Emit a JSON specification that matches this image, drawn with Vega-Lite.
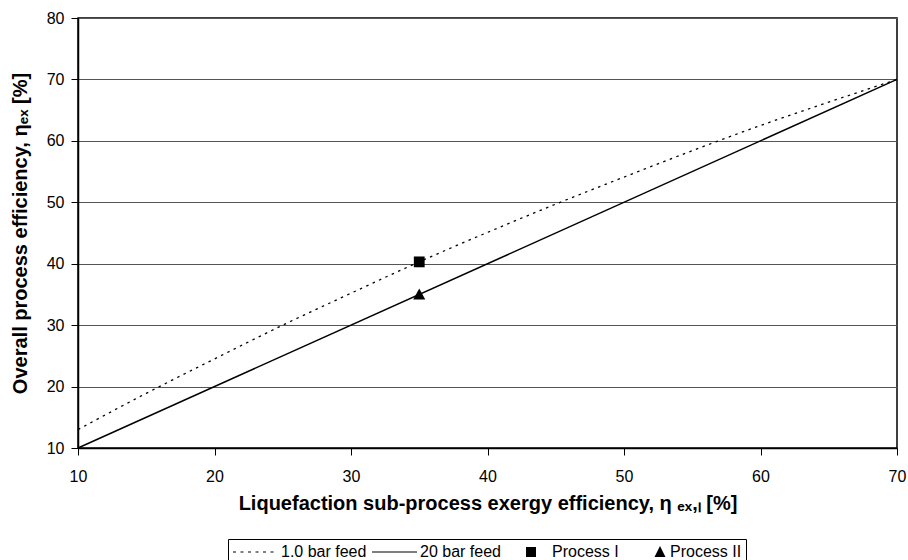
{
  "$schema": "https://vega.github.io/schema/vega-lite/v6.json",
  "width": 819,
  "height": 430,
  "autosize": "none",
  "padding": {"left": 78, "top": 18, "right": 11, "bottom": 112},
  "background": "white",
  "config": {
    "font": "Liberation Sans",
    "view": {"stroke": "black", "strokeWidth": 1.5},
    "axis": {
      "domainColor": "black",
      "domainWidth": 1.5,
      "tickColor": "black",
      "tickSize": 7,
      "tickWidth": 1,
      "labelFontSize": 16,
      "labelColor": "black",
      "labelFlush": false,
      "titleFontSize": 20,
      "titleFontWeight": "bold",
      "titleColor": "black"
    }
  },
  "data": {
    "values": [
      {"series": "1.0 bar feed", "x": 10, "y": 13},
      {"series": "1.0 bar feed", "x": 15, "y": 18.9},
      {"series": "1.0 bar feed", "x": 20, "y": 24.5},
      {"series": "1.0 bar feed", "x": 25, "y": 30},
      {"series": "1.0 bar feed", "x": 30, "y": 35.2},
      {"series": "1.0 bar feed", "x": 35, "y": 40.3},
      {"series": "1.0 bar feed", "x": 40, "y": 45.1},
      {"series": "1.0 bar feed", "x": 45, "y": 49.7},
      {"series": "1.0 bar feed", "x": 50, "y": 54.1},
      {"series": "1.0 bar feed", "x": 55, "y": 58.4},
      {"series": "1.0 bar feed", "x": 60, "y": 62.5},
      {"series": "1.0 bar feed", "x": 65, "y": 66.3},
      {"series": "1.0 bar feed", "x": 70, "y": 70},
      {"series": "20 bar feed", "x": 10, "y": 10},
      {"series": "20 bar feed", "x": 70, "y": 70},
      {"series": "Process I", "x": 35, "y": 40.3},
      {"series": "Process II", "x": 35, "y": 35}
    ]
  },
  "encoding": {
    "x": {
      "field": "x", "type": "quantitative",
      "scale": {"domain": [10, 70], "nice": false, "zero": false},
      "axis": {
        "values": [10, 20, 30, 40, 50, 60, 70],
        "grid": false,
        "labelPadding": 13,
        "titlePadding": 9,
        "title": "Liquefaction sub-process exergy efficiency, η ₑₓ,ₗ [%]"
      }
    },
    "y": {
      "field": "y", "type": "quantitative",
      "scale": {"domain": [10, 80], "nice": false, "zero": false},
      "axis": {
        "values": [10, 20, 30, 40, 50, 60, 70, 80],
        "grid": true,
        "gridColor": "#555555",
        "gridWidth": 1,
        "gridOpacity": 1,
        "labelPadding": 7,
        "titlePadding": 16,
        "title": "Overall process efficiency, ηₑₓ [%]"
      }
    }
  },
  "layer": [
    {
      "transform": [{"filter": "datum.series === '1.0 bar feed'"}],
      "mark": {"type": "line", "color": "black", "strokeWidth": 1.3, "strokeDash": [2.5, 4.5], "interpolate": "monotone"}
    },
    {
      "transform": [{"filter": "datum.series === '20 bar feed'"}],
      "mark": {"type": "line", "color": "black", "strokeWidth": 1.5}
    },
    {
      "transform": [{"filter": "datum.series === 'Process I' || datum.series === 'Process II'"}],
      "mark": {"type": "point", "filled": true, "color": "black", "size": 576, "opacity": 1},
      "encoding": {
        "shape": {
          "field": "series", "type": "nominal",
          "scale": {
            "domain": ["Process I", "Process II"],
            "range": [
              "M-0.45,-0.45H0.45V0.45H-0.45Z",
              "M0,-0.5L0.5,0.42H-0.5Z"
            ]
          },
          "legend": null
        }
      }
    },
    {
      "mark": {"type": "point", "filled": true, "color": "black", "size": 256, "opacity": 0},
      "encoding": {
        "shape": {
          "field": "series", "type": "nominal",
          "scale": {
            "domain": ["1.0 bar feed", "20 bar feed", "Process I", "Process II"],
            "range": [
              "M-1,-0.07h0.375v0.14h-0.375ZM-0.0625,-0.07h0.375v0.14h-0.375ZM0.875,-0.07h0.375v0.14h-0.375ZM1.8125,-0.07h0.375v0.14h-0.375ZM2.75,-0.07h0.375v0.14h-0.375ZM3.6875,-0.07h0.375v0.14h-0.375Z",
              "M-1,-0.07H4.625V0.07H-1Z",
              "M1.75,-0.625H3V0.625H1.75Z",
              "M3.75,-0.75L4.4375,0.625H3.0625Z"
            ]
          },
          "legend": {
            "title": null,
            "orient": "none",
            "direction": "horizontal",
            "legendX": 150,
            "legendY": 521,
            "columns": 4,
            "symbolSize": 256,
            "labelFontSize": 16,
            "labelColor": "black",
            "labelOffset": 31,
            "columnPadding": 2,
            "padding": 4,
            "strokeColor": "black",
            "fillColor": "white",
            "encode": {
              "symbols": {
                "fill": {"value": "black"},
                "opacity": {"value": 1}
              }
            }
          }
        }
      }
    }
  ],
  "resolve": {"scale": {"shape": "independent"}}
}
